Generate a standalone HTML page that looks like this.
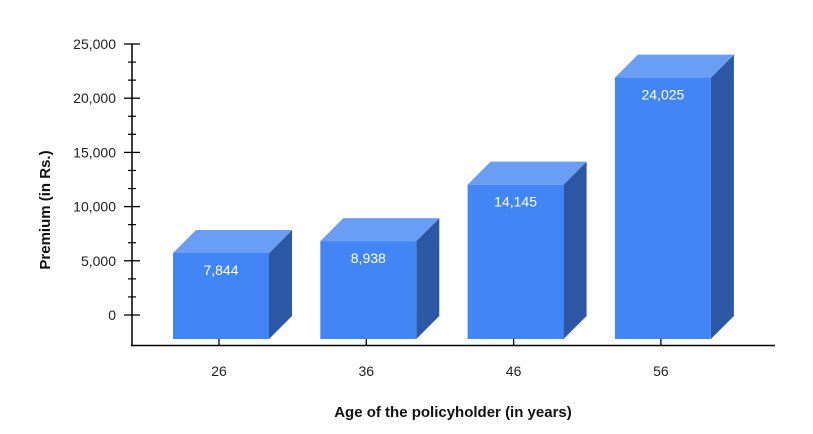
<!DOCTYPE html>
<html><head><meta charset="utf-8"><style>
body{margin:0;background:#fff;}
svg{display:block;font-family:"Liberation Sans",sans-serif;}
</style></head><body>
<svg id="chart" width="813" height="434">
<g id="axes"></g><g id="bars"></g>
<text x="453" y="417" text-anchor="middle" font-size="15" font-weight="bold" fill="#111">Age of the policyholder (in years)</text>
<text transform="translate(50,210) rotate(-90)" text-anchor="middle" font-size="15" font-weight="bold" fill="#111">Premium (in Rs.)</text>
</svg>
<script>
const categories = ["26","36","46","56"];
const premiums = [7844, 8938, 14145, 24025];
const valueLabels = ["7,844","8,938","14,145","24,025"];
const yTicks = [0,5000,10000,15000,20000,25000];
const yTickLabels = ["0","5,000","10,000","15,000","20,000","25,000"];

const NS="http://www.w3.org/2000/svg";
const y0=315, y1=44, vMax=25000;
const y=v=>y0-(v/vMax)*(y0-y1);
const xc=i=>221+i*147.3;
const D=23, W=96, BOT=339;
const axes=document.getElementById('axes'), bars=document.getElementById('bars');
function mk(tag,attrs,parent){const e=document.createElementNS(NS,tag);for(const k in attrs)e.setAttribute(k,attrs[k]);parent.appendChild(e);return e;}

let l=mk('line',{x1:132,y1:44,x2:132,y2:346,stroke:'#000','stroke-width':1.5},axes);


l=mk('line',{x1:131,y1:345.5,x2:775,y2:345.5,stroke:'#000','stroke-width':1.5},axes);


yTicks.forEach((v,i)=>{
  const t=mk('line',{x1:124,x2:140,y1:y(v),y2:y(v),stroke:'#000','stroke-width':1.3},axes);
  
  
  const tx=mk('text',{x:116,y:y(v)+5,'text-anchor':'end','font-size':14,fill:'#222'},axes);
  tx.textContent=yTickLabels[i];
  
  
  if(i>0){for(let k=1;k<3;k++){const vv=yTicks[i-1]+(v-yTicks[i-1])*k/3;
    const m=mk('line',{x1:128,x2:136,y1:y(vv),y2:y(vv),stroke:'#000','stroke-width':1.2},axes);
    
    }}
});
categories.forEach((c,i)=>{
  const cx=xc(i), L=cx-W/2, R=cx+W/2, top=y(premiums[i])+D;
  const g=mk('g',{},bars);
  
  
  mk('polygon',{points:`${R},${top} ${R+D},${top-D} ${R+D},${BOT-D} ${R},${BOT}`,fill:'#2c58a6'},g);
  mk('polygon',{points:`${L},${top} ${L+D},${top-D} ${R+D},${top-D} ${R},${top}`,fill:'#6a9ef5'},g);
  mk('rect',{x:L,y:top,width:W,height:BOT-top,fill:'#4285f4'},g);
  const vt=mk('text',{x:cx,y:top+22,'text-anchor':'middle','font-size':14,fill:'#fff'},g);
  vt.textContent=valueLabels[i];
  
  
  const t=mk('line',{x1:cx-2,x2:cx-2,y1:339,y2:346,stroke:'#000','stroke-width':1.3},axes);
  
  
  const ct=mk('text',{x:cx-2,y:376,'text-anchor':'middle','font-size':14,fill:'#222'},axes);
  ct.textContent=c;
  
  
});
</script>
</body></html>
